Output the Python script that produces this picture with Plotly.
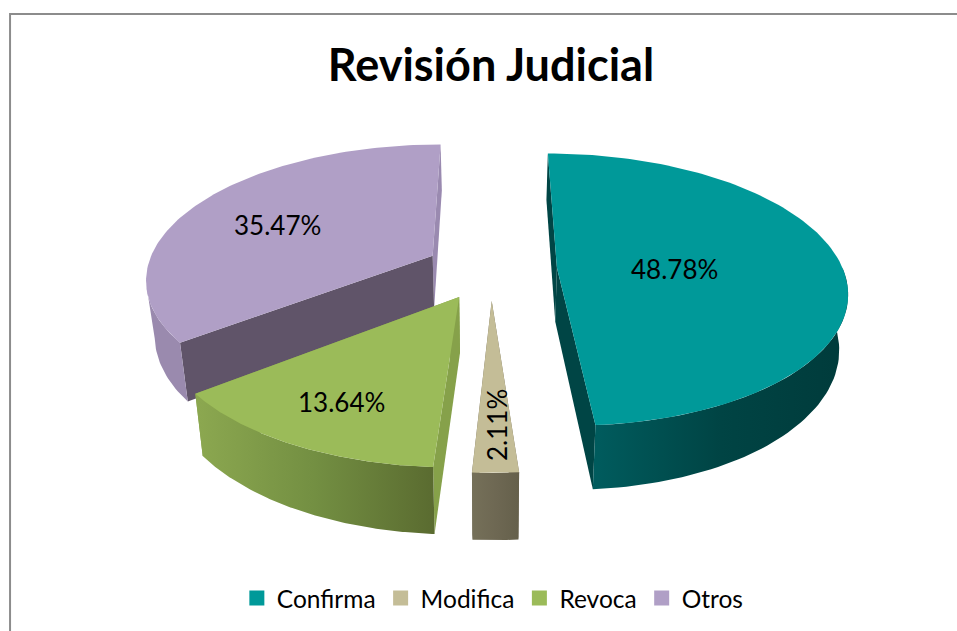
import numpy as np
import plotly.graph_objects as go

# ---- data
categories = ["Confirma", "Modifica", "Revoca", "Otros"]
values = [48.78, 2.11, 13.64, 35.47]
title_text = "Revisión Judicial"

# ---- style
top_colors = ["#009999", "#C4BD97", "#9BBB59", "#B09FC6"]
face_start = ["#004545", "#6E6853", "#86A14A", "#605469"]
face_end = ["#004545", "#6E6853", "#86A14A", "#9A8AB0"]
wall_grad = [["#005C5E", "#004444", "#003B3B"],
             ["#757059", "#6E6853", "#65604B"],
             ["#8CA850", "#738F42", "#5A6B30"],
             ["#9A8AAE", "#9A8AAE", "#9A8AAE"]]
label_polar = [(0.41, 91.5), (0.755, 179), (0.74, 207.5), (0.632, 293)]
label_angle = [0, -90, 0, 0]
draw_order = [3, 0, 2, 1]

# ---- projection
CX, CY, RX, RY, PERSP, EXPLODE, DEPTH, TAPER = 491, 269, 286, 133, 0.16, 0.231, 54, 0.025


def project(X, Y, drop=0.0):
    s = 1 / (1 - PERSP * np.asarray(Y))
    taper = 1 - TAPER * (drop / DEPTH)
    return CX + RX * s * np.asarray(X) * taper, CY + RY * s * np.asarray(Y) + drop * s


fracs = np.cumsum([0] + values) / sum(values) * 360
starts = fracs[:-1]
ends = fracs[1:]
mids = (starts + ends) / 2

fig = go.Figure()
annots = []


def poly(x, y, color=None, grad=None):
    kw = dict(fillcolor=color) if grad is None else dict(
        fillgradient=dict(type="horizontal",
                          colorscale=[[i / (len(grad) - 1), c] for i, c in enumerate(grad)]))
    fig.add_trace(go.Scatter(x=x, y=y, mode="lines", fill="toself", line=dict(width=0),
                             hoverinfo="skip", showlegend=False, **kw))


for i in draw_order:
    off = np.radians(mids[i])
    ox, oy = EXPLODE * np.sin(off), -EXPLODE * np.cos(off)
    th = np.radians(np.linspace(starts[i], ends[i], 120))
    ax, ay = ox + np.sin(th), oy - np.cos(th)

    def face(X, Y, col):
        x0, y0 = project([ox, X], [oy, Y])
        x1, y1 = project([X, ox], [Y, oy], DEPTH)
        poly(np.r_[x0, x1], np.r_[y0, y1], col)

    face(ax[-1], ay[-1], face_end[i])
    face(ax[0], ay[0], face_start[i])
    # outer wall (only the part facing the viewer)
    vis = ay > oy - 0.02 if i != 3 else ay > oy + 0.2
    tx, ty = project(ax[vis], ay[vis])
    bx, by = project(ax[vis], ay[vis], DEPTH)
    poly(np.r_[tx, bx[::-1]], np.r_[ty, by[::-1]], grad=wall_grad[i])
    # top
    x, y = project(np.r_[ox, ax], np.r_[oy, ay])
    poly(x, y, top_colors[i])
    # label
    f, a = label_polar[i]
    lx, ly = project(ox + f * np.sin(np.radians(a)), oy - f * np.cos(np.radians(a)))
    annots.append(dict(x=float(lx), y=float(ly), xref="x", yref="y", showarrow=False,
                       text=f"{values[i]:.2f}%", textangle=label_angle[i],
                       font=dict(family="Lato", size=26, color="#000000")))

for c, col in zip(categories, top_colors):
    fig.add_trace(go.Scatter(x=[None], y=[None], mode="markers", name=c,
                             marker=dict(symbol="square", size=15, color=col)))

fig.update_layout(
    width=957, height=631, margin=dict(l=0, r=0, t=0, b=0),
    paper_bgcolor="white", plot_bgcolor="white",
    xaxis=dict(range=[0, 957], visible=False, fixedrange=True),
    yaxis=dict(range=[631, 0], visible=False, fixedrange=True),
    title=dict(text=f"<b>{title_text}</b>", x=0.513, xanchor="center", y=0.896, yanchor="middle",
               font=dict(family="Lato", size=45, color="#000000")),
    legend=dict(orientation="h", x=0.515, xanchor="center", y=0.052, yanchor="middle",
                font=dict(family="Lato", size=24.5, color="#000000"), itemwidth=30,
                bgcolor="rgba(0,0,0,0)"),
    annotations=annots,
    shapes=[
        dict(type="line", xref="paper", yref="paper", x0=0.0105, x1=1, y0=1 - 14 / 631, y1=1 - 14 / 631,
             line=dict(color="#8C8C8C", width=2)),
        dict(type="line", xref="paper", yref="paper", x0=0.0105, x1=0.0105, y0=1 - 13 / 631, y1=0,
             line=dict(color="#8C8C8C", width=2)),
    ],
)
fig.write_html("out.html", config={"displayModeBar": False},
               post_script="document.body.style.margin='0';document.body.style.overflow='hidden';")
